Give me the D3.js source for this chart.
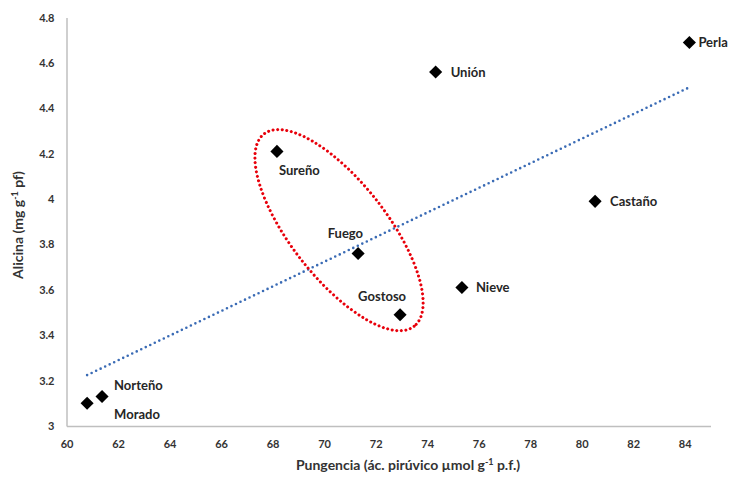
<!DOCTYPE html>
<html>
<head>
<meta charset="utf-8">
<script src="https://cdn.jsdelivr.net/npm/d3@7"></script>
<style>
    body { margin: 0; background: #fff; }
    text { font-family: Lato, "Open Sans", sans-serif; font-weight: bold; }
</style>
</head>
<body>
<svg id="drawing_region"></svg>
<script>
// variedades
const names = ['Perla', 'Unión', 'Castaño', 'Nieve', 'Sureño', 'Fuego', 'Gostoso', 'Norteño', 'Morado'];
const pungencia = [84.18, 74.33, 80.52, 75.35, 68.17, 71.32, 72.95, 61.38, 60.80];
const alicina = [4.69, 4.56, 3.99, 3.61, 4.21, 3.76, 3.49, 3.13, 3.10];

const xticks = [60, 62, 64, 66, 68, 70, 72, 74, 76, 78, 80, 82, 84];
const yticks = [3, 3.2, 3.4, 3.6, 3.8, 4, 4.2, 4.4, 4.6, 4.8];

// grupo marcado con la elipse (centro en unidades de los ejes)
const group_center = [70.58, 3.863];

class ScatterChart {

    constructor( config ) {
        this.config = {
            parent: config.parent,
            width: config.width || 256,
            height: config.height || 256,
            margin: config.margin || {top:10, right:10, bottom:10, left:10}
        }
        this.data = names.map((n, i) => ({ name: n, x: pungencia[i], y: alicina[i] }));
        this.init();
    }

    init() {
        let self = this;

        self.svg = d3.select( self.config.parent )
            .attr('width', self.config.width)
            .attr('height', self.config.height);

        self.chart = self.svg.append('g')
            .attr('transform', `translate(${self.config.margin.left}, ${self.config.margin.top})`);

        self.inner_width = self.config.width - self.config.margin.left - self.config.margin.right;
        self.inner_height = self.config.height - self.config.margin.top - self.config.margin.bottom;

        self.xscale = d3.scaleLinear()
            .domain([60, 85])
            .range([0, self.inner_width]);

        self.yscale = d3.scaleLinear()
            .domain([3, 4.8])
            .range([self.inner_height, 0]);
    }

    update() {
        let self = this;

        self.xaxis = d3.axisBottom( self.xscale )
            .tickValues(xticks)
            .tickFormat(d3.format('d'))
            .tickSize(0)
            .tickPadding(14);

        self.yaxis = d3.axisLeft( self.yscale )
            .tickValues(yticks)
            .tickFormat(d => d3.format('.1f')(d).replace(/\.0$/, ''))
            .tickSize(0)
            .tickPadding(12);

        self.xaxis_group = self.chart.append('g')
            .attr('transform', `translate(0, ${self.inner_height})`)
            .call( self.xaxis );

        self.yaxis_group = self.chart.append('g')
            .call( self.yaxis );

        [self.xaxis_group, self.yaxis_group].forEach(g => {
            g.select('.domain').attr('stroke', '#bfbfbf').attr('stroke-width', 1.5);
            g.selectAll('text').style('font-size', '11px').attr('fill', '#333')
                .style('font-family', 'Lato, sans-serif').style('font-weight', 'bold');
        });

        self.render();
    }

    render() {
        let self = this;

        // linea de tendencia (regresion lineal)
        const mx = d3.mean(self.data, d => d.x);
        const my = d3.mean(self.data, d => d.y);
        const slope = d3.sum(self.data, d => (d.x - mx) * (d.y - my)) / d3.sum(self.data, d => (d.x - mx) ** 2);
        const x_ext = d3.extent(self.data, d => d.x);
        const trend = x_ext.map(x => ({ x: x, y: my + slope * (x - mx) }));

        self.line = d3.line()
            .x( d => self.xscale(d.x) )
            .y( d => self.yscale(d.y) );

        self.chart.append('path')
            .attr('d', self.line(trend))
            .attr('stroke', '#3a6bb5')
            .attr('stroke-width', 2.6)
            .attr('stroke-linecap', 'round')
            .attr('stroke-dasharray', '0 5')
            .attr('fill', 'none');

        // elipse roja punteada
        self.chart.append('ellipse')
            .attr('transform', `translate(${self.xscale(group_center[0])}, ${self.yscale(group_center[1])}) rotate(52)`)
            .attr('rx', 122)
            .attr('ry', 48)
            .attr('fill', 'none')
            .attr('stroke', '#e8000b')
            .attr('stroke-width', 3)
            .attr('stroke-linecap', 'round')
            .attr('stroke-dasharray', '0 4.6');

        // puntos
        self.chart.selectAll('.dot')
            .data(self.data)
            .join('path')
            .attr('class', 'dot')
            .attr('d', d3.symbol().type(d3.symbolSquare).size(86))
            .attr('transform', d => `translate(${self.xscale(d.x)}, ${self.yscale(d.y)}) rotate(45)`)
            .attr('fill', '#000');

        // etiquetas
        const label_pos = {
            'Perla':   [9, 0, 'start'],
            'Unión':   [15, 0, 'start'],
            'Castaño': [15, 0, 'start'],
            'Nieve':   [14, 0, 'start'],
            'Sureño':  [2, 19, 'start'],
            'Fuego':   [5, -20, 'end'],
            'Gostoso': [6, -18, 'end'],
            'Norteño': [12, -11, 'start'],
            'Morado':  [27, 11, 'start']
        };

        self.chart.selectAll('.label')
            .data(self.data)
            .join('text')
            .attr('class', 'label')
            .style('font-size', '13px')
            .attr('fill', '#262626')
            .attr('x', d => self.xscale(d.x) + label_pos[d.name][0])
            .attr('y', d => self.yscale(d.y) + label_pos[d.name][1])
            .attr('dy', '0.35em')
            .attr('text-anchor', d => label_pos[d.name][2])
            .text(d => d.name);

        // titulos de los ejes
        const xt = self.svg.append('text')
            .style('font-size', '14px')
            .attr('fill', '#333')
            .attr('x', 408)
            .attr('y', 470)
            .attr('text-anchor', 'middle');
        xt.append('tspan').text('Pungencia (ác. pirúvico µmol g');
        xt.append('tspan').attr('dy', -5).style('font-size', '9px').text('-1');
        xt.append('tspan').attr('dy', 5).text(' p.f.)');

        const yt = self.svg.append('text')
            .style('font-size', '14px')
            .attr('fill', '#333')
            .attr('transform', `translate(23, 225) rotate(-90)`)
            .attr('text-anchor', 'middle');
        yt.append('tspan').text('Alicina (mg g');
        yt.append('tspan').attr('dy', -5).style('font-size', '9px').text('-1');
        yt.append('tspan').attr('dy', 5).text(' pf)');
    }
}

const chart = new ScatterChart({
    parent: '#drawing_region',
    width: 732,
    height: 485,
    margin: {top: 17.5, right: 21.5, bottom: 59, left: 66.5}
});
chart.update();
</script>
</body>
</html>
